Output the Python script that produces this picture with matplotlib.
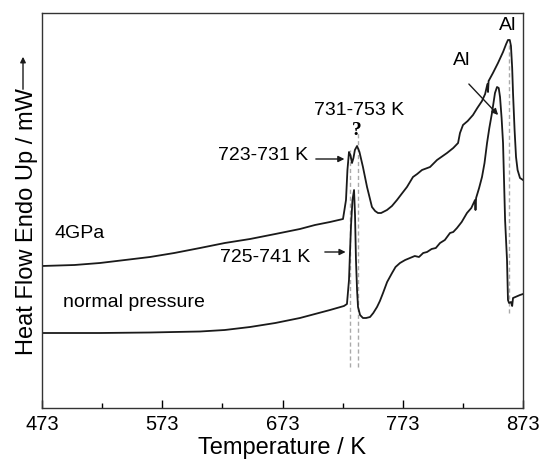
import matplotlib
matplotlib.use("Agg")
import matplotlib.pyplot as plt

plt.rcParams['font.family'] = ['Liberation Sans', 'DejaVu Sans']

# Temperature (K) and heat flow (arbitrary units)
t_4gpa = [473, 500, 521.2, 542, 562.8, 583, 604.4, 625, 646.0, 667, 687.5, 700, 712.5,
          723.3, 724.5, 725.8, 727.0, 728.3, 729.5, 730.8, 732.0, 733.2, 735.0,
          737.0, 739.9, 743.3, 747.4, 750.0, 752.4, 755.0, 759.9, 764.0, 768.2,
          772.0, 776.5, 781.5, 785.0, 789.0, 795.7, 801.5, 809.8, 815.0, 819.0,
          820.6, 823.1, 827.0, 831.4, 835.0, 838.9, 841.5, 843.4, 843.9, 844.4,
          848.0, 852.2, 856.4, 859.0, 860.5, 862.0, 863.0, 864.0, 864.7, 866.0,
          867.2, 868.5, 870.5, 873.0]
hf_4gpa = [1.42, 1.43, 1.45, 1.48, 1.51, 1.55, 1.60, 1.65, 1.69, 1.74, 1.79, 1.83, 1.86,
           1.89, 1.98, 2.08, 2.38, 2.56, 2.53, 2.45, 2.50, 2.58, 2.62,
           2.56, 2.41, 2.21, 2.01, 1.97, 1.95, 1.95, 1.98, 2.02, 2.08,
           2.14, 2.21, 2.31, 2.34, 2.38, 2.41, 2.48, 2.55, 2.60, 2.65,
           2.75, 2.83, 2.87, 2.93, 3.00, 3.07, 3.14, 3.24, 3.16, 3.27,
           3.35, 3.45, 3.56, 3.64, 3.68, 3.68, 3.62, 3.40, 3.15, 2.78,
           2.51, 2.38, 2.30, 2.28]

t_norm = [473, 521.2, 562.8, 583, 604.4, 625, 646.0, 667, 687.5, 700, 712.5, 724.1,
          726.6, 728.3, 729.1, 730.0, 731.2, 732.5, 733.3, 734.1, 735.0, 735.8,
          737.5, 739.9, 742.5, 745.8, 748.5, 751.6, 754.0, 756.6, 760.0, 764.1,
          767.0, 770.7, 775.0, 779.0, 783.0, 786.5, 790.0, 793.2, 797.0, 800.5,
          804.0, 808.0, 812.3, 815.0, 818.1, 822.0, 826.4, 830.0, 833.1, 833.5,
          834.0, 836.5, 838.9, 841.0, 843.1, 845.0, 847.2, 849.7, 851.4, 852.8,
          853.9, 855.2, 856.4, 858.1, 859.7, 860.5, 861.4, 863.0, 864.0, 864.7,
          870.5, 873.0]
hf_norm = [0.75, 0.75, 0.755, 0.76, 0.765, 0.78, 0.81, 0.85, 0.90, 0.94, 0.98, 1.02,
           1.04, 1.28, 1.55, 1.83, 2.08, 2.18, 1.93, 1.48, 1.18, 1.01,
           0.93, 0.90, 0.90, 0.91, 0.95, 1.01, 1.07, 1.15, 1.26, 1.35,
           1.41, 1.45, 1.48, 1.50, 1.52, 1.51, 1.55, 1.56, 1.59, 1.60,
           1.65, 1.68, 1.75, 1.76, 1.80, 1.86, 1.95, 2.00, 2.08, 1.98,
           2.10, 2.20, 2.31, 2.45, 2.65, 2.80, 2.95, 3.15, 3.21, 3.20,
           3.11, 2.90, 2.65, 1.88, 1.48, 1.08, 1.05, 1.06, 1.02, 1.10,
           1.13, 1.14]

# guide lines (temperature, top, bottom)
guide_t = [729.1, 735.8, 861.4]
guide_top = [2.58, 2.75, 3.65]
guide_bot = [0.41, 0.41, 0.95]

xticks = [473, 573, 673, 773, 873]
xminor = [523, 623, 723, 823]

fig = plt.figure(figsize=(5.42, 4.65), dpi=100)
ax = fig.add_axes([42/542, 1-408/465, (523-42)/542, (408-13)/465])

for t, a, b in zip(guide_t, guide_top, guide_bot):
    ax.plot([t, t], [b, a], color='#aaaaaa', lw=1.0, ls=(0, (3, 2)), zorder=1)

ax.plot(t_4gpa, hf_4gpa, color='#1a1a1a', lw=1.3, zorder=2, solid_joinstyle='round')
ax.plot(t_norm, hf_norm, color='#1a1a1a', lw=1.3, zorder=2, solid_joinstyle='round')

ax.set_xlim(473, 873)
ax.set_ylim(0, 3.95)
ax.set_xticks(xticks)
ax.set_xticks(xminor, minor=True)
ax.set_yticks([])
ax.tick_params(axis='x', which='major', direction='in', length=6, width=1.0, labelsize=14.5, pad=5, top=False)
ax.tick_params(axis='x', which='minor', direction='in', length=3.5, width=1.0, top=False)
for s in ax.spines.values():
    s.set_linewidth(1.0)
    s.set_color('#333333')
ax.set_xlabel('Temperature / K', fontsize=17, labelpad=2)

fig.text(27/542, 1-222/465, 'Heat Flow Endo Up / mW', rotation=90, ha='center', va='center', fontsize=17)
fig.patches.append(matplotlib.patches.FancyArrowPatch((23/542, 1-92/465), (23/542, 1-54/465),
                   transform=fig.transFigure, arrowstyle='-|>', mutation_scale=8, lw=1.0, color='#1a1a1a'))

fs = 14
ax.text(736.6, 2.98, '731-753 K', ha='center', va='center', fontsize=fs)
ax.text(735.0, 2.78, '?', ha='center', va='center', fontsize=14, family='Liberation Serif', weight='bold')
ax.text(694.2, 2.53, '723-731 K', ha='right', va='center', fontsize=fs)
ax.annotate('', xy=(726.8, 2.49), xytext=(698.4, 2.49),
            arrowprops=dict(arrowstyle='-|>', color='#1a1a1a', lw=1.0, mutation_scale=9))
ax.text(695.9, 1.51, '725-741 K', ha='right', va='center', fontsize=fs)
ax.annotate('', xy=(727.8, 1.56), xytext=(705.9, 1.56),
            arrowprops=dict(arrowstyle='-|>', color='#1a1a1a', lw=1.0, mutation_scale=9))
ax.text(860.5, 3.83, 'Al', ha='center', va='center', fontsize=fs)
ax.text(822.3, 3.48, 'Al', ha='center', va='center', fontsize=fs)
ax.annotate('', xy=(853.9, 2.91), xytext=(826.4, 3.26),
            arrowprops=dict(arrowstyle='-|>', color='#1a1a1a', lw=1.0, mutation_scale=9))
ax.text(483.8, 1.75, '4GPa', ha='left', va='center', fontsize=fs)
ax.text(490.5, 1.06, 'normal pressure', ha='left', va='center', fontsize=fs)

fig.savefig('out.png', dpi=100)
